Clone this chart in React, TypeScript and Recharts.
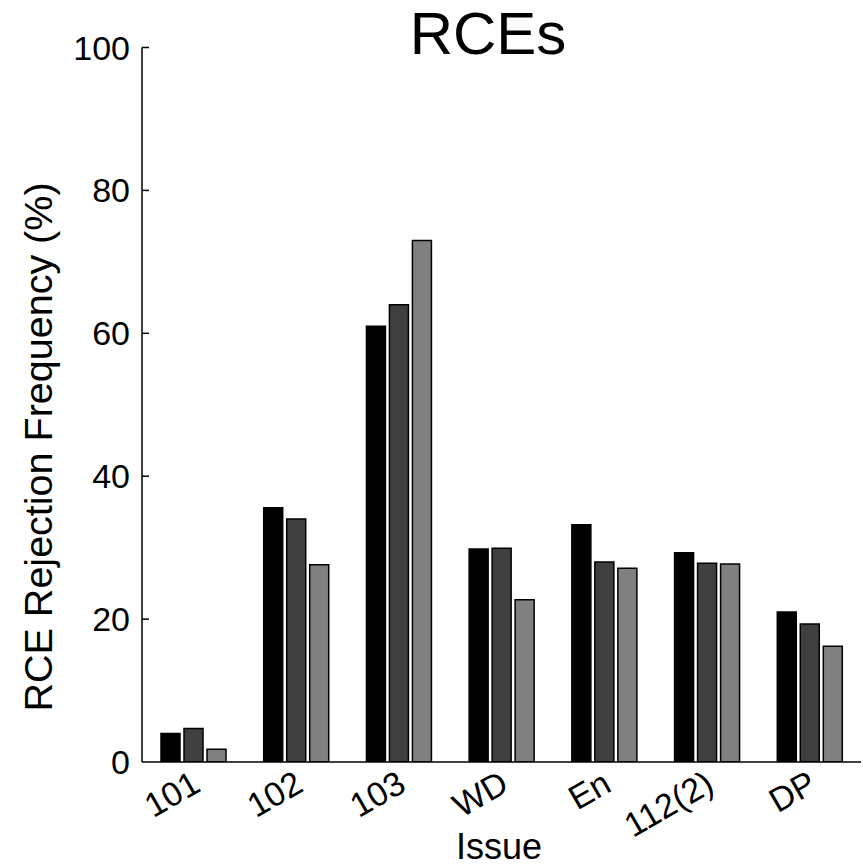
import React from 'react';
import { BarChart, Bar, XAxis, YAxis } from 'recharts';

const categories = ['101', '102', '103', 'WD', 'En', '112(2)', 'DP'];
const seriesBlack = [4.0, 35.6, 61.0, 29.8, 33.2, 29.3, 21.0];
const seriesDark = [4.7, 34.0, 64.0, 29.9, 28.0, 27.8, 19.3];
const seriesGray = [1.8, 27.6, 73.0, 22.7, 27.1, 27.7, 16.2];
const yTicks = [0, 20, 40, 60, 80, 100];

const data = categories.map((name, i) => ({
  name,
  black: seriesBlack[i],
  dark: seriesDark[i],
  gray: seriesGray[i],
}));

const FONT = '"Liberation Sans", Arial, Helvetica, sans-serif';

const XTick = (props: any) => {
  const { x, y, payload } = props;
  const tx = x + 9;
  const ty = y + 28;
  return (
    <text
      x={tx}
      y={ty}
      transform={`rotate(-30, ${tx}, ${ty})`}
      textAnchor="end"
      fontSize={34}
      fontFamily={FONT}
      fill="#000"
    >
      {payload.value}
    </text>
  );
};

const YTick = (props: any) => {
  const { x, y, payload } = props;
  return (
    <g>
      {payload.value !== 0 && (
        <line x1={x} x2={x + 7} y1={y} y2={y} stroke="#000" strokeWidth={1.5} />
      )}
      <text x={x - 12} y={y} dy={12} textAnchor="end" fontSize={34} fontFamily={FONT} fill="#000">
        {payload.value}
      </text>
    </g>
  );
};

export default function App() {
  return (
    <div style={{ position: 'absolute', left: 0, top: 0, width: 863, height: 867, background: '#fff' }}>
      <BarChart
        width={863}
        height={867}
        data={data}
        margin={{ top: 47.5, right: 2, bottom: 45, left: 82 }}
        barSize={19}
        barGap={4}
      >
        <XAxis
          dataKey="name"
          type="category"
          interval={0}
          height={60}
          tickSize={0}
          tickMargin={0}
          tick={<XTick />}
          axisLine={{ stroke: '#000', strokeWidth: 1.5 }}
          tickLine={false}
        />
        <YAxis
          type="number"
          domain={[0, 100]}
          allowDataOverflow={true}
          ticks={yTicks}
          interval={0}
          width={60}
          tickSize={0}
          tickMargin={0}
          tick={<YTick />}
          axisLine={{ stroke: '#000', strokeWidth: 1.5 }}
          tickLine={false}
        />
        <Bar dataKey="black" fill="#000000" stroke="#000" strokeWidth={1.5} isAnimationActive={false} />
        <Bar dataKey="dark" fill="#404040" stroke="#000" strokeWidth={1.5} isAnimationActive={false} />
        <Bar dataKey="gray" fill="#808080" stroke="#000" strokeWidth={1.5} isAnimationActive={false} />
      </BarChart>
      <svg
        width={863}
        height={867}
        style={{ position: 'absolute', left: 0, top: 0, pointerEvents: 'none' }}
      >
        <text x={488} y={54} textAnchor="middle" fontSize={60} fontFamily={FONT} fill="#000">
          RCEs
        </text>
        <text
          x={52}
          y={447}
          transform="rotate(-90, 52, 447)"
          textAnchor="middle"
          fontSize={39.5}
          fontFamily={FONT}
          fill="#000"
        >
          RCE Rejection Frequency (%)
        </text>
        <text x={499} y={859} textAnchor="middle" fontSize={36} fontFamily={FONT} fill="#000">
          Issue
        </text>
      </svg>
    </div>
  );
}
